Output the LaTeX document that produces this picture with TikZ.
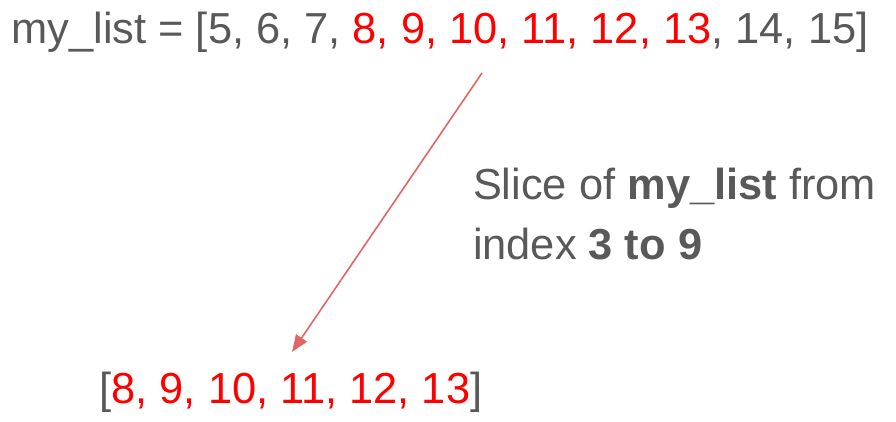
\documentclass[tikz,border=0pt]{standalone}
\usepackage{fontspec}
\setmainfont{Liberation Sans}
\usetikzlibrary{arrows.meta}
\definecolor{txtgray}{HTML}{595959}
\definecolor{hired}{HTML}{FF0000}
\definecolor{arrred}{HTML}{E06666}
\begin{document}
\begin{tikzpicture}[x=1pt,y=-1pt,
  lbl/.style={inner sep=0pt,outer sep=0pt,anchor=base west,text=txtgray,font=\fontsize{43.4}{60}\selectfont},
  slicearrow/.style={draw=arrred,line width=1.6pt,-{Triangle[length=17pt,width=13pt]}}]
\useasboundingbox (0,0) rectangle (896,422);
\node[lbl] (orig) at (11.5,44) {my\_list = [5, 6, 7, \textcolor{hired}{8, 9, 10, 11, 12, 13}, 14, 15]};
\node[lbl] (desc1) at (473,199) {Slice of \textbf{my\_list} from};
\node[lbl] (desc2) at (473,259) {index \textbf{3 to 9}};
\node[lbl] (result) at (99.5,403) {[\textcolor{hired}{8, 9, 10, 11, 12, 13}]};
\coordinate (astart) at (482,73);
\coordinate (aend) at (292,352);
\draw[slicearrow] (astart) -- (aend);
\end{tikzpicture}
\end{document}
